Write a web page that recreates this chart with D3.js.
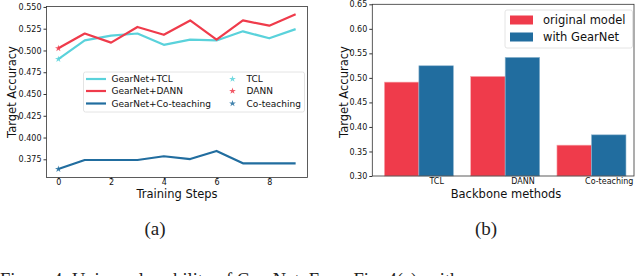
<!DOCTYPE html>
<html><head><meta charset="utf-8">
<script src="https://cdn.jsdelivr.net/npm/d3@7"></script>
<style>body{margin:0;background:#fff}svg{display:block}text{font-family:"DejaVu Sans",sans-serif}</style>
</head><body><svg id="c" width="640" height="276"></svg>
<script>
const steps = [0,1,2,3,4,5,6,7,8,9];
const gearTCL = [0.490,0.5115,0.517,0.5195,0.5065,0.5125,0.5115,0.522,0.514,0.5245];
const gearDANN = [0.5025,0.5195,0.509,0.527,0.518,0.5345,0.5125,0.5345,0.5285,0.5415];
const gearCo = [0.3638,0.3742,0.3742,0.3742,0.3785,0.3753,0.3846,0.3704,0.3704,0.3704];
const baseTCL = [0.490], baseDANN = [0.5025], baseCo = [0.3638];
const lineTicksY = [0.375,0.400,0.425,0.450,0.475,0.500,0.525,0.550];
const lineTicksX = [0,2,4,6,8];
const methods = ["TCL","DANN","Co-teaching"];
const original = [0.4914,0.503,0.3629];
const withGear = [0.5247,0.5418,0.3839];
const barTicksY = [0.30,0.35,0.40,0.45,0.50,0.55,0.60,0.65];
const cCyan="#5ad2db", cRed="#ef3b4b", cBlue="#216d9f";

const svg = d3.select("#c");
// ---------- (a) line chart ----------
const x1 = d3.scaleLinear().domain([-0.45,9.45]).range([46.5,307.5]);
const y1 = d3.scaleLinear().domain([0.3541,0.5505]).range([177.5,6.5]);
const g1 = svg.append("g");
g1.append("rect").attr("x",46.5).attr("y",6.5).attr("width",261).attr("height",171)
  .attr("fill","none").attr("stroke","#333").attr("stroke-width",0.8);
const ay1 = g1.append("g").attr("transform","translate(46.5,0)")
  .call(d3.axisLeft(y1).tickValues(lineTicksY).tickFormat(d3.format(".3f")).tickSize(3).tickPadding(2));
const ax1 = g1.append("g").attr("transform","translate(0,177.5)")
  .call(d3.axisBottom(x1).tickValues(lineTicksX).tickFormat(d3.format("d")).tickSize(2).tickPadding(0));
[ay1,ax1].forEach(a=>{a.select(".domain").remove();a.selectAll("line").attr("stroke","#333");
  a.selectAll("text").attr("font-size",8).attr("fill","#111");});
const series = [[gearTCL,cCyan],[gearDANN,cRed],[gearCo,cBlue]];
const line = d3.line().x((d,i)=>x1(steps[i])).y(d=>y1(d));
series.forEach(([d,c])=>g1.append("path").datum(d).attr("d",line).attr("fill","none")
  .attr("stroke",c).attr("stroke-width",2.2).attr("stroke-linejoin","round"));
const star = d3.symbol().type(d3.symbolStar).size(14);
[[baseTCL,cCyan],[baseDANN,cRed],[baseCo,cBlue]].forEach(([d,c])=>
  g1.append("path").attr("d",star).attr("transform",`translate(${x1(0)},${y1(d[0])})`).attr("fill",c).attr("opacity",0.85));
g1.append("text").attr("x",177).attr("y",197.5).attr("text-anchor","middle").attr("font-size",11.5).attr("fill","#111").text("Training Steps");
g1.append("text").attr("transform","translate(16,92) rotate(-90)").attr("text-anchor","middle").attr("font-size",11.5).attr("fill","#111").text("Target Accuracy");
// legend
const lg1 = g1.append("g");
lg1.append("rect").attr("x",83.5).attr("y",72).attr("width",221).attr("height",40).attr("rx",2)
  .attr("fill","#fff").attr("fill-opacity",0.85).attr("stroke","#ddd").attr("stroke-width",0.8);
const lnames = ["GearNet+TCL","GearNet+DANN","GearNet+Co-teaching"];
const snames = ["TCL","DANN","Co-teaching"];
const lcols = [cCyan,cRed,cBlue];
[79,91,103.5].forEach((yy,i)=>{
  lg1.append("line").attr("x1",86).attr("x2",106).attr("y1",yy).attr("y2",yy).attr("stroke",lcols[i]).attr("stroke-width",2.2);
  lg1.append("text").attr("x",111.5).attr("y",yy+3.3).attr("font-size",9).attr("fill","#111").text(lnames[i]);
  lg1.append("path").attr("d",star).attr("transform",`translate(232.5,${yy})`).attr("fill",lcols[i]).attr("opacity",0.85);
  lg1.append("text").attr("x",246.5).attr("y",yy+3.3).attr("font-size",9).attr("fill","#111").text(snames[i]);
});
svg.append("text").attr("x",155).attr("y",235).attr("text-anchor","middle").attr("font-size",19)
  .attr("style","font-family:'Liberation Serif',serif").attr("fill","#222").text("(a)");

// ---------- (b) bar chart ----------
const bx = d3.scaleLinear().domain([-0.54,2.493]).range([372.3,634]);
const yb = d3.scaleLinear().domain([0.30,0.65]).range([176,4.3]);
const g2 = svg.append("g");
const bw = bx(0.4)-bx(0);
g2.selectAll(".r").data(original).join("rect").attr("x",(d,i)=>bx(i-0.4)).attr("y",d=>yb(d))
  .attr("width",bw).attr("height",d=>yb(0.30)-yb(d)).attr("fill",cRed).attr("stroke","#f7aab0").attr("stroke-width",0.6);
g2.selectAll(".b").data(withGear).join("rect").attr("x",(d,i)=>bx(i)).attr("y",d=>yb(d))
  .attr("width",bw).attr("height",d=>yb(0.30)-yb(d)).attr("fill",cBlue).attr("stroke","#8fb6cf").attr("stroke-width",0.6);
g2.append("rect").attr("x",372.3).attr("y",4.3).attr("width",634-372.3).attr("height",176-4.3)
  .attr("fill","none").attr("stroke","#333").attr("stroke-width",0.8);
const ay2 = g2.append("g").attr("transform","translate(372.3,0)")
  .call(d3.axisLeft(yb).tickValues(barTicksY).tickFormat(d3.format(".2f")).tickSize(3).tickPadding(2));
const ax2 = g2.append("g").attr("transform","translate(0,176)")
  .call(d3.axisBottom(d3.scaleOrdinal().domain(methods).range(methods.map((m,i)=>bx(i+0.2)))).tickSize(0).tickPadding(2.5));
[ay2,ax2].forEach(a=>{a.select(".domain").remove();a.selectAll("line").attr("stroke","#333");
  a.selectAll("text").attr("font-size",8).attr("fill","#111");});
g2.append("text").attr("x",506).attr("y",197.5).attr("text-anchor","middle").attr("font-size",11.5).attr("fill","#111").text("Backbone methods");
g2.append("text").attr("transform","translate(348,92) rotate(-90)").attr("text-anchor","middle").attr("font-size",11.5).attr("fill","#111").text("Target Accuracy");
const lg2 = g2.append("g");
lg2.append("rect").attr("x",505).attr("y",10).attr("width",127.5).attr("height",38).attr("rx",2)
  .attr("fill","#fff").attr("stroke","#ddd").attr("stroke-width",0.8);
[["original model",cRed,20],["with GearNet",cBlue,37]].forEach(([t,c,yy])=>{
  lg2.append("rect").attr("x",510).attr("y",yy-4.5).attr("width",23).attr("height",9).attr("fill",c);
  lg2.append("text").attr("x",543).attr("y",yy+4.2).attr("font-size",11.5).attr("fill","#111").text(t);
});
svg.append("text").attr("x",486).attr("y",235).attr("text-anchor","middle").attr("font-size",19)
  .attr("style","font-family:'Liberation Serif',serif").attr("fill","#222").text("(b)");

svg.append("text").attr("x",0).attr("y",286).attr("font-size",18.5)
  .attr("style","font-family:'Liberation Serif',serif").attr("fill","#222")
  .text("Figure 4: Universal usability of GearNet. From Fig. 4(a), with");
</script></body></html>
